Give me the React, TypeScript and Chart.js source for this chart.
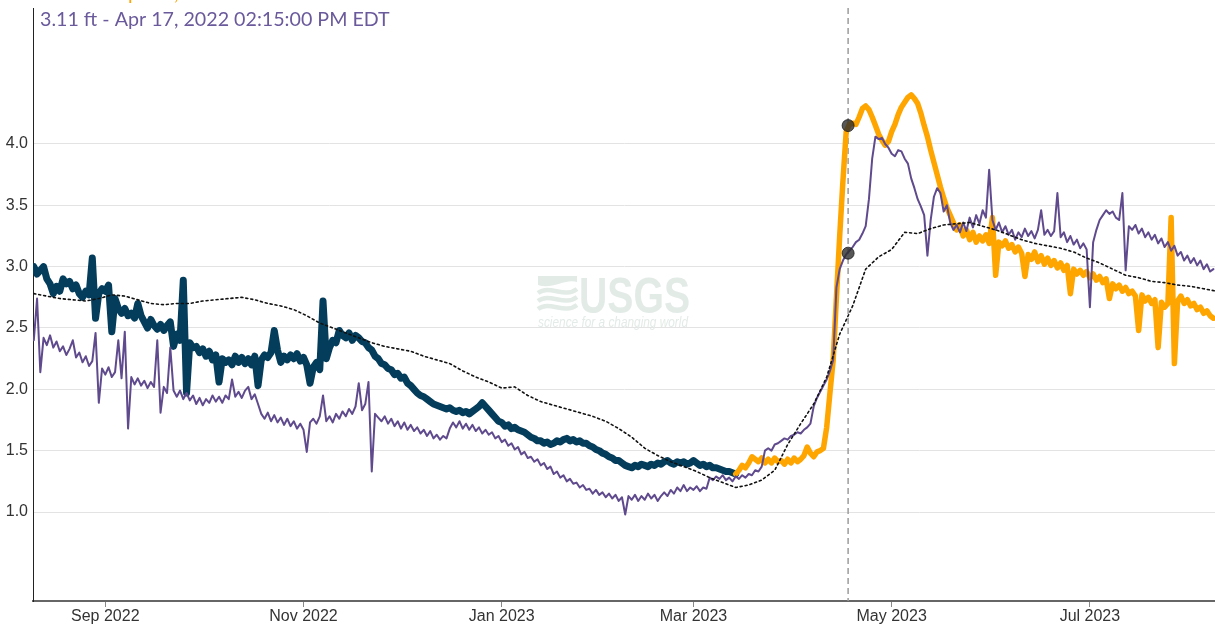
import React, { useEffect, useRef } from 'react';
import { Chart, registerables } from 'chart.js';

Chart.register(...registerables);

// ---- DATA ----
const AXIS_BASE = '2022-09-01';
const X_MIN_DATE = '2022-08-09T18:00:00Z';
const X_MAX_DATE = '2023-08-08T12:00:00Z';

const tickDates = ['2022-09-01', '2022-11-01', '2023-01-01', '2023-03-01', '2023-05-01', '2023-07-01'];
const tickLabels = ['Sep 2022', 'Nov 2022', 'Jan 2023', 'Mar 2023', 'May 2023', 'Jul 2023'];
const yTickValues = [1.0, 1.5, 2.0, 2.5, 3.0, 3.5, 4.0];

const SERIES_START = '2022-08-10';
const SERIES_STEP_DAYS = 1;
const PROVISIONAL_START = '2023-03-14';
const MEDIAN_STEP_DAYS = 4;

// Approved (current year, dark blue) – daily
const approvedValues = [
  3.00, 2.94, 2.97, 3.00, 2.90, 2.86, 2.78, 2.84, 2.80, 2.90,
  2.86, 2.88, 2.82, 2.85, 2.78, 2.75, 2.80, 2.77, 3.07, 2.58,
  2.78, 2.82, 2.80, 2.85, 2.47, 2.74, 2.66, 2.62, 2.66, 2.60,
  2.62, 2.58, 2.70, 2.60, 2.55, 2.50, 2.57, 2.52, 2.49, 2.53,
  2.48, 2.52, 2.55, 2.35, 2.45, 2.40, 2.89, 1.97, 2.38, 2.34,
  2.35, 2.30, 2.33, 2.27, 2.31, 2.24, 2.28, 2.06, 2.25, 2.22,
  2.24, 2.20, 2.27, 2.22, 2.26, 2.21, 2.25, 2.20, 2.27, 2.03,
  2.24, 2.28, 2.26, 2.30, 2.48, 2.32, 2.22, 2.27, 2.24, 2.28,
  2.25, 2.29, 2.23, 2.26, 2.20, 2.05, 2.18, 2.22, 2.16, 2.72,
  2.25, 2.34, 2.40, 2.38, 2.48, 2.44, 2.42, 2.46, 2.40, 2.44,
  2.42, 2.39, 2.38, 2.34, 2.32, 2.27, 2.25, 2.21, 2.20, 2.17,
  2.16, 2.12, 2.13, 2.09, 2.10, 2.05, 2.03, 2.00, 1.97, 1.95,
  1.94, 1.92, 1.90, 1.88, 1.87, 1.86, 1.85, 1.84, 1.85, 1.83,
  1.82, 1.83, 1.81, 1.82, 1.80, 1.82, 1.84, 1.86, 1.89, 1.86,
  1.83, 1.80, 1.77, 1.74, 1.73, 1.70, 1.71, 1.68, 1.69, 1.67,
  1.66, 1.65, 1.63, 1.61, 1.60, 1.58, 1.58, 1.56, 1.57, 1.55,
  1.56, 1.58, 1.57, 1.59, 1.60, 1.58, 1.59, 1.57, 1.58, 1.56,
  1.56, 1.54, 1.53, 1.51, 1.50, 1.48, 1.47, 1.45, 1.44, 1.42,
  1.42, 1.40, 1.38, 1.37, 1.36, 1.38, 1.37, 1.39, 1.38, 1.37,
  1.39, 1.38, 1.40, 1.39, 1.41, 1.42, 1.40, 1.39, 1.41, 1.40,
  1.41, 1.39, 1.40, 1.42, 1.40, 1.38, 1.39, 1.37, 1.38, 1.36,
  1.36, 1.35, 1.34, 1.33, 1.33, 1.32, 1.31,
];

// Provisional (current year, orange) – daily
const provisionalValues = [
  1.31, 1.34, 1.38, 1.36, 1.40, 1.45, 1.43, 1.41, 1.44, 1.40,
  1.43, 1.40, 1.44, 1.41, 1.42, 1.39, 1.43, 1.40, 1.44, 1.41,
  1.43, 1.46, 1.53, 1.48, 1.45, 1.49, 1.50, 1.52, 1.69, 1.97,
  2.24, 2.75, 3.25, 3.70, 4.10, 4.16, 4.17, 4.16, 4.22, 4.29,
  4.31, 4.28, 4.22, 4.15, 4.08, 4.03, 3.99, 4.02, 4.10, 4.16,
  4.24, 4.30, 4.34, 4.38, 4.40, 4.37, 4.33, 4.25, 4.15, 4.06,
  3.95, 3.85, 3.75, 3.65, 3.56, 3.48, 3.42, 3.36, 3.30, 3.34,
  3.25, 3.30, 3.22, 3.28, 3.20, 3.25, 3.21, 3.26, 3.19, 3.40,
  2.93, 3.20, 3.17, 3.21, 3.15, 3.18, 3.12, 3.16, 3.11, 2.92,
  3.10, 3.06, 3.12, 3.04, 3.09, 3.02, 3.07, 3.01, 3.05, 2.99,
  3.03, 2.97, 3.01, 2.78, 2.98, 2.94, 2.97, 2.93, 2.96, 2.91,
  2.94, 2.89, 2.92, 2.87, 2.90, 2.74, 2.86, 2.82, 2.85, 2.80,
  2.83, 2.78, 2.80, 2.76, 2.48, 2.77, 2.72, 2.75, 2.70, 2.73,
  2.34, 2.71, 2.67, 2.70, 3.40, 2.21, 2.72, 2.76, 2.70, 2.73,
  2.68, 2.70, 2.65, 2.67, 2.62, 2.64, 2.60, 2.58,
];

// Last year (purple) – daily
const lastYearValues = [
  2.40, 2.74, 2.14, 2.42, 2.36, 2.44, 2.34, 2.39, 2.31, 2.35,
  2.28, 2.33, 2.40, 2.26, 2.30, 2.22, 2.27, 2.19, 2.23, 2.46,
  1.89, 2.17, 2.12, 2.18, 2.10, 2.14, 2.40, 2.09, 2.47, 1.68,
  2.10, 2.04, 2.09, 2.03, 2.07, 2.01, 2.06, 2.02, 2.40, 1.81,
  2.02, 1.97, 2.34, 1.99, 1.94, 1.99, 1.92, 1.97, 1.91, 1.95,
  1.88, 1.93, 1.87, 1.92, 1.89, 1.95, 1.90, 1.94, 1.89, 1.95,
  1.92, 2.08, 1.94, 1.98, 1.93, 1.99, 2.02, 1.92, 1.96, 1.88,
  1.80, 1.76, 1.81, 1.74, 1.79, 1.73, 1.77, 1.71, 1.76, 1.70,
  1.74, 1.68, 1.72, 1.67, 1.49, 1.73, 1.76, 1.72, 1.78, 1.95,
  1.74, 1.78, 1.73, 1.80, 1.76, 1.82, 1.78, 1.84, 1.80, 1.86,
  2.05, 1.83, 1.88, 2.06, 1.33, 1.80, 1.77, 1.74, 1.78, 1.72,
  1.76, 1.70, 1.74, 1.68, 1.73, 1.67, 1.71, 1.66, 1.69, 1.64,
  1.67, 1.62, 1.66, 1.60, 1.63, 1.59, 1.62, 1.60, 1.68, 1.73,
  1.69, 1.74, 1.68, 1.72, 1.67, 1.71, 1.66, 1.69, 1.64, 1.67,
  1.63, 1.65, 1.60, 1.62, 1.57, 1.59, 1.54, 1.56, 1.51, 1.53,
  1.47, 1.49, 1.44, 1.45, 1.41, 1.43, 1.38, 1.40, 1.35, 1.37,
  1.31, 1.33, 1.28, 1.30, 1.25, 1.27, 1.23, 1.24, 1.20, 1.22,
  1.18, 1.19, 1.15, 1.18, 1.14, 1.16, 1.12, 1.15, 1.11, 1.14,
  1.09, 1.12, 0.98, 1.13, 1.10, 1.14, 1.09, 1.13, 1.10, 1.15,
  1.11, 1.14, 1.09, 1.13, 1.16, 1.13, 1.18, 1.15, 1.20, 1.17,
  1.22, 1.17, 1.20, 1.18, 1.21, 1.17, 1.20, 1.19, 1.28, 1.26,
  1.29, 1.27, 1.30, 1.26, 1.28, 1.25, 1.29, 1.27, 1.30, 1.28,
  1.31, 1.30, 1.34, 1.33, 1.37, 1.50, 1.52, 1.50, 1.55, 1.56,
  1.58, 1.60, 1.59, 1.62, 1.63, 1.65, 1.64, 1.67, 1.69, 1.72,
  1.86, 1.93, 1.98, 2.03, 2.08, 2.15, 2.24, 2.83, 2.98, 3.05,
  3.10, 3.13, 3.16, 3.20, 3.22, 3.27, 3.33, 3.55, 3.88, 4.06,
  4.04, 4.05, 4.00, 3.97, 3.92, 3.90, 3.95, 3.94, 3.88, 3.84,
  3.72, 3.64, 3.55, 3.49, 3.42, 3.09, 3.38, 3.57, 3.64, 3.60,
  3.45, 3.50, 3.36, 3.30, 3.34, 3.28, 3.36, 3.29, 3.40, 3.32,
  3.42, 3.35, 3.46, 3.40, 3.79, 3.38, 3.30, 3.36, 3.28, 3.33,
  3.26, 3.30, 3.22, 3.28, 3.24, 3.31, 3.25, 3.29, 3.23, 3.30,
  3.46, 3.26, 3.30, 3.25, 3.29, 3.60, 3.24, 3.28, 3.20, 3.25,
  3.18, 3.22, 3.15, 3.19, 3.14, 2.67, 3.20, 3.30, 3.38, 3.42,
  3.46, 3.43, 3.45, 3.40, 3.38, 3.60, 2.97, 3.33, 3.30, 3.34,
  3.27, 3.31, 3.24, 3.28, 3.22, 3.26, 3.19, 3.23, 3.16, 3.20,
  3.13, 3.17, 3.09, 3.12, 3.05, 3.09, 3.03, 3.07, 3.01, 3.05,
  2.98, 3.02, 2.96, 2.98,
];

// Median (dotted) – every 4 days
const medianValues = [
  2.78, 2.76, 2.74, 2.73, 2.72, 2.74, 2.77, 2.76, 2.73, 2.70,
  2.69, 2.70, 2.70, 2.72, 2.73, 2.74, 2.75, 2.73, 2.70, 2.68,
  2.65, 2.60, 2.54, 2.50, 2.46, 2.42, 2.38, 2.35, 2.33, 2.31,
  2.27, 2.24, 2.21, 2.15, 2.10, 2.06, 2.01, 2.02, 1.95, 1.90,
  1.87, 1.84, 1.81, 1.78, 1.74, 1.68, 1.61, 1.52, 1.46, 1.41,
  1.37, 1.33, 1.28, 1.24, 1.20, 1.22, 1.26, 1.34, 1.55, 1.72,
  1.88, 2.10, 2.45, 2.68, 2.98, 3.08, 3.14, 3.28, 3.27, 3.31,
  3.34, 3.35, 3.36, 3.33, 3.30, 3.26, 3.22, 3.19, 3.17, 3.15,
  3.12, 3.07, 3.03, 2.98, 2.93, 2.91, 2.88, 2.87, 2.85, 2.84,
  2.82, 2.80,
];

const CURSOR_DATE = '2023-04-17T14:15:00Z';
const cursorCurrentValue = 4.15;
const cursorLastYearValue = 3.11;
const currentLabel = '4.15 ft - Apr 17, 2023 02:15:00 PM EDT';
const lastYearLabel = '3.11 ft - Apr 17, 2022 02:15:00 PM EDT';

// ---- STYLE ----
const BLUE = '#033d5b';
const ORANGE = '#ffa500';
const PURPLE = '#5f4a8d';
const PURPLE_TEXT = '#6a5a9c';

const BASE_MS = Date.parse(AXIS_BASE + 'T00:00:00Z');
const dayOf = (s: string) => {
  const iso = s.length === 10 ? s + 'T00:00:00Z' : s;
  return (Date.parse(iso) - BASE_MS) / 86400000;
};
const toPoints = (start: string, step: number, vals: number[]) => {
  const d0 = dayOf(start);
  return vals.map((v, i) => ({ x: d0 + i * step, y: v }));
};

const Y_MIN = 1.0 - 89 / 122.67;
const Y_MAX = 4.0 + 136 / 122.67;

const zeroPadding = (s: any) => {
  s.paddingTop = 0;
  s.paddingBottom = 0;
  s.paddingLeft = 0;
  s.paddingRight = 0;
};

export default function App() {
  const ref = useRef<HTMLCanvasElement | null>(null);

  useEffect(() => {
    document.body.style.margin = '0';
    const canvas = ref.current;
    if (!canvas) return;
    const cursorDay = dayOf(CURSOR_DATE);
    const tickDays = tickDates.map(dayOf);

    const background = {
      id: 'background',
      beforeDatasetsDraw(chart: any) {
        const ctx = chart.ctx as CanvasRenderingContext2D;
        ctx.save();
        ctx.fillStyle = '#e3ebe7';
        ctx.strokeStyle = '#e3ebe7';
        ctx.font = 'bold 50px "Liberation Sans"';
        const w = ctx.measureText('USGS').width;
        ctx.save();
        ctx.translate(579, 313);
        ctx.scale(111 / w, 1);
        ctx.fillText('USGS', 0, 0);
        ctx.restore();
        ctx.font = 'italic 14px "Liberation Sans"';
        const w2 = ctx.measureText('science for a changing world').width;
        ctx.save();
        ctx.translate(538, 327);
        ctx.scale(150 / w2, 1);
        ctx.fillText('science for a changing world', 0, 0);
        ctx.restore();
        ctx.beginPath();
        ctx.moveTo(538, 276);
        ctx.lineTo(577, 276);
        ctx.lineTo(577, 282);
        ctx.bezierCurveTo(566, 278, 552, 290, 538, 285);
        ctx.closePath();
        ctx.fill();
        ctx.lineWidth = 4.5;
        for (let k = 0; k < 3; k++) {
          const y = 293 + k * 8;
          ctx.beginPath();
          ctx.moveTo(538, y);
          ctx.bezierCurveTo(550, y - 9, 564, y + 6, 577, y - 4);
          ctx.stroke();
        }
        ctx.restore();

        const px = chart.scales.x.getPixelForValue(cursorDay);
        ctx.save();
        ctx.strokeStyle = '#9c9c9c';
        ctx.lineWidth = 1.5;
        ctx.setLineDash([6, 4]);
        ctx.beginPath();
        ctx.moveTo(px, chart.chartArea.top);
        ctx.lineTo(px, chart.chartArea.bottom);
        ctx.stroke();
        ctx.restore();
      },
    };

    const titles = {
      id: 'titles',
      afterDraw(chart: any) {
        const ctx = chart.ctx as CanvasRenderingContext2D;
        ctx.save();
        ctx.font = '22px Lato';
        const w = ctx.measureText(lastYearLabel).width;
        const size = (22 * 350) / w;
        ctx.font = `${size}px Lato`;
        ctx.textBaseline = 'alphabetic';
        ctx.textAlign = 'left';
        ctx.fillStyle = ORANGE;
        ctx.fillText(currentLabel, 40, 0);
        ctx.fillStyle = PURPLE_TEXT;
        ctx.fillText(lastYearLabel, 40, 26);
        ctx.restore();
      },
    };

    const chart = new Chart(canvas, {
      type: 'line',
      data: {
        datasets: [
          {
            label: 'cursor',
            data: [
              { x: cursorDay, y: cursorCurrentValue },
              { x: cursorDay, y: cursorLastYearValue },
            ],
            showLine: false,
            pointRadius: 6,
            pointBackgroundColor: 'rgba(45,45,45,0.8)',
            pointBorderColor: 'rgba(30,30,30,0.8)',
            pointBorderWidth: 1,
            order: 0,
          },
          {
            label: 'Median',
            data: toPoints(SERIES_START, MEDIAN_STEP_DAYS, medianValues),
            borderColor: '#111111',
            borderWidth: 1.6,
            borderDash: [2, 3],
            pointRadius: 0,
            order: 1,
          },
          {
            label: 'Last year',
            data: toPoints(SERIES_START, SERIES_STEP_DAYS, lastYearValues),
            borderColor: PURPLE,
            borderWidth: 2,
            pointRadius: 0,
            order: 2,
          },
          {
            label: 'Provisional',
            data: toPoints(PROVISIONAL_START, SERIES_STEP_DAYS, provisionalValues),
            borderColor: ORANGE,
            borderWidth: 5.5,
            pointRadius: 0,
            order: 3,
          },
          {
            label: 'Approved',
            data: toPoints(SERIES_START, SERIES_STEP_DAYS, approvedValues),
            borderColor: BLUE,
            borderWidth: 7,
            pointRadius: 0,
            order: 4,
          },
        ],
      },
      options: {
        animation: false,
        responsive: false,
        layout: { autoPadding: false, padding: { top: 8, left: 0, right: 0, bottom: 0 } },
        plugins: { legend: { display: false }, tooltip: { enabled: false } },
        elements: { line: { tension: 0, borderJoinStyle: 'round', borderCapStyle: 'round' } },
        scales: {
          x: {
            type: 'linear',
            min: dayOf(X_MIN_DATE),
            max: dayOf(X_MAX_DATE),
            afterBuildTicks: (s: any) => {
              s.ticks = tickDays.map((v) => ({ value: v }));
            },
            afterFit: (s: any) => {
              s.height = 25;
              zeroPadding(s);
            },
            ticks: {
              autoSkip: false,
              maxRotation: 0,
              padding: 0,
              color: '#333',
              font: { family: '"Liberation Sans", Arial, sans-serif', size: 16 },
              callback: (v: any) => {
                const idx = tickDays.findIndex((d) => Math.abs(d - Number(v)) < 0.01);
                return idx >= 0 ? tickLabels[idx] : '';
              },
            },
            grid: { drawOnChartArea: false, drawTicks: true, tickLength: 6, color: '#888' },
            border: { display: true, color: '#666', width: 2 },
          },
          y: {
            type: 'linear',
            min: Y_MIN,
            max: Y_MAX,
            afterBuildTicks: (s: any) => {
              s.ticks = yTickValues.map((v) => ({ value: v }));
            },
            afterFit: (s: any) => {
              s.width = 33;
              zeroPadding(s);
            },
            ticks: {
              padding: 5,
              color: '#333',
              font: { family: '"Liberation Sans", Arial, sans-serif', size: 16 },
              callback: (v: any) => Number(v).toFixed(1),
            },
            grid: { color: '#e3e3e3', drawTicks: false, lineWidth: 1 },
            border: { display: true, color: '#222', width: 1 },
          },
        },
      },
      plugins: [background, titles],
    } as any);

    return () => chart.destroy();
  }, []);

  return <canvas ref={ref} width={1215} height={626} style={{ display: 'block' }} />;
}
